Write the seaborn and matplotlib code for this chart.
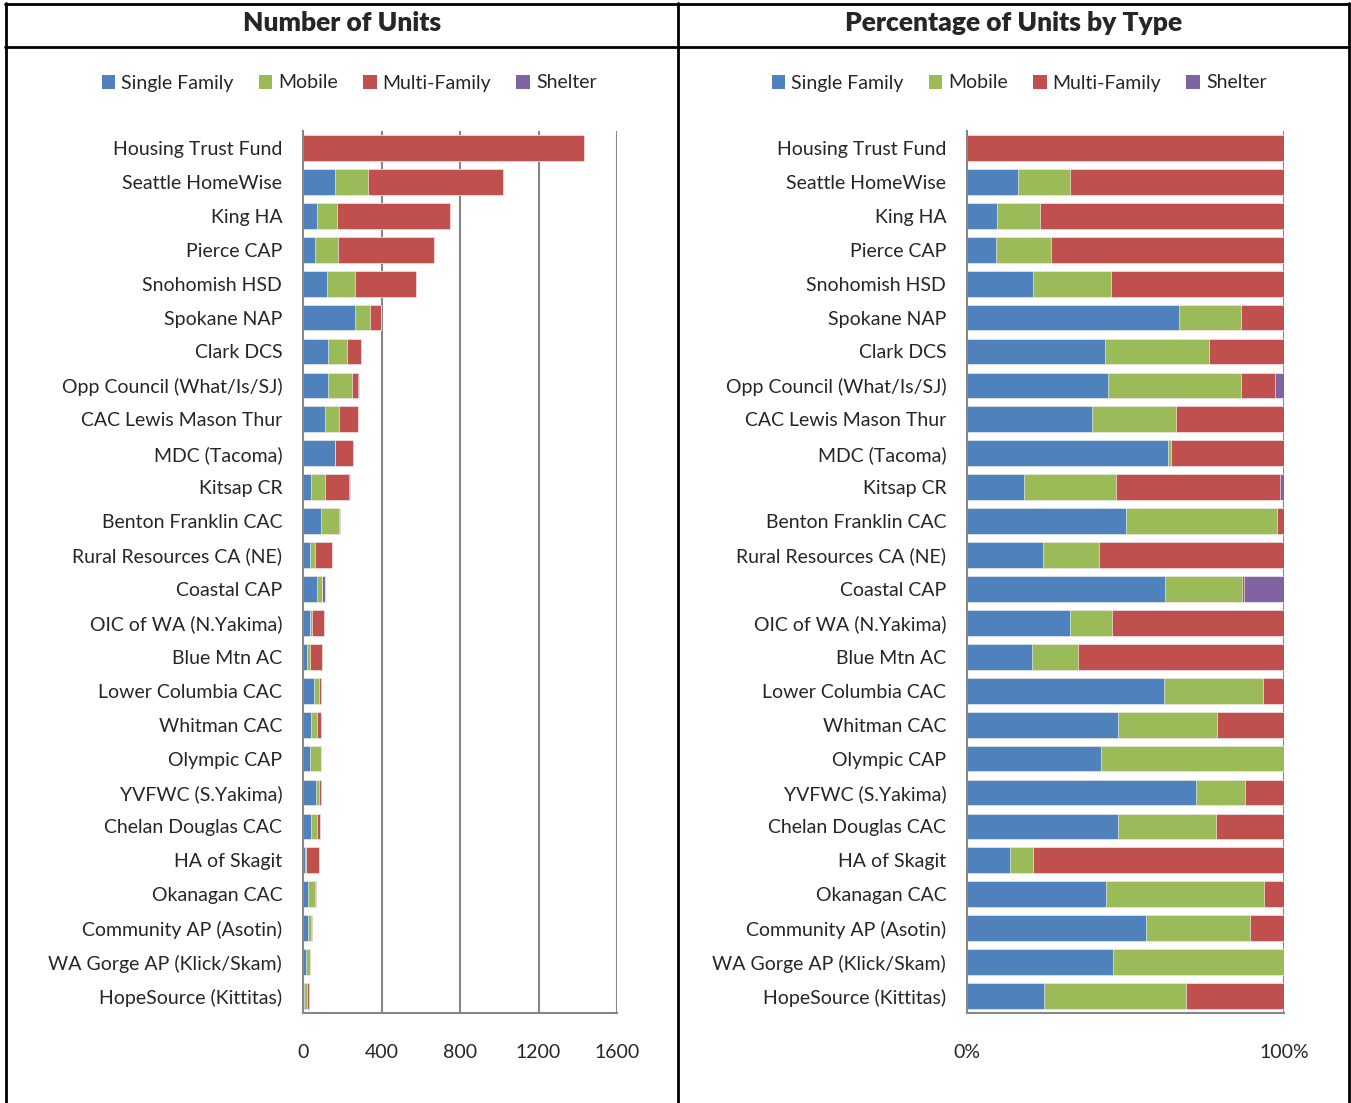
import numpy as np
import pandas as pd
import matplotlib
matplotlib.use("Agg")
import matplotlib.pyplot as plt
from matplotlib.patches import Patch
from matplotlib.lines import Line2D
from matplotlib.ticker import FixedLocator
import seaborn as sns

categories = [
    "Housing Trust Fund", "Seattle HomeWise", "King HA", "Pierce CAP",
    "Snohomish HSD", "Spokane NAP", "Clark DCS", "Opp Council (What/Is/SJ)",
    "CAC Lewis Mason Thur", "MDC (Tacoma)", "Kitsap CR", "Benton Franklin CAC",
    "Rural Resources CA (NE)", "Coastal CAP", "OIC of WA (N.Yakima)",
    "Blue Mtn AC", "Lower Columbia CAC", "Whitman CAC", "Olympic CAP",
    "YVFWC (S.Yakima)", "Chelan Douglas CAC", "HA of Skagit", "Okanagan CAC",
    "Community AP (Asotin)", "WA Gorge AP (Klick/Skam)", "HopeSource (Kittitas)",
]
single_family = [0, 163, 71, 62, 120, 265, 129, 128, 110, 162, 43, 93, 35, 70,
                 34, 20, 56, 43, 38, 65, 42, 11, 28, 26, 17, 7]
mobile = [0, 167, 102, 115, 143, 77, 97, 120, 75, 2, 69, 89, 26, 27,
          14, 14, 28, 28, 52, 14, 27, 6, 32, 15, 20, 13]
multi_family = [1432, 687, 578, 491, 315, 54, 70, 31, 95, 91, 123, 4, 85, 1,
                57, 63, 6, 19, 0, 11, 19, 65, 4, 5, 0, 9]
shelter = [0, 0, 0, 0, 0, 0, 0, 8, 0, 0, 3, 0, 0, 14,
           0, 0, 0, 0, 0, 0, 0, 0, 0, 0, 0, 0]

series_names = ["Single Family", "Mobile", "Multi-Family", "Shelter"]
colors = ["#4F81BD", "#9BBB59", "#C0504D", "#8064A2"]
left_ticks = [0, 400, 800, 1200, 1600]
left_ticklabels = ["0", "400", "800", "1200", "1600"]
right_ticks = [0, 1]
right_ticklabels = ["0%", "100%"]

sns.set_style("white")
plt.rcParams["font.family"] = ["Lato", "DejaVu Sans"]

W, H = 1351, 1103
fig = plt.figure(figsize=(W / 100, H / 100), dpi=100)

vals = np.array([single_family, mobile, multi_family, shelter], dtype=float)
cum = np.cumsum(vals, axis=0)
totals = cum[-1]
cum_pct = cum / totals

grid_col = "#868686"


def px_axes(x0, x1, y0, y1):
    return fig.add_axes([x0 / W, 1 - y1 / H, (x1 - x0) / W, (y1 - y0) / H])


def draw(ax, cumdata, xmax, ticks, ticklabels):
    for i in range(3, -1, -1):
        df = pd.DataFrame({"name": categories, "value": cumdata[i]})
        sns.barplot(data=df, x="value", y="name", order=categories,
                    color=colors[i], saturation=1, width=0.76, errorbar=None,
                    edgecolor="white", linewidth=0.4, ax=ax)
    ax.set_xlim(0, xmax)
    ax.set_ylim(len(categories) - 0.5, -0.5)
    ax.set_xlabel("")
    ax.set_ylabel("")
    for t in ticks:
        if t > 0:
            ax.axvline(t, color=grid_col, lw=1.5, zorder=0)
    ax.set_xticks(ticks)
    ax.set_xticklabels(ticklabels, fontsize=14)
    ax.tick_params(axis="x", length=6, width=1.2, color=grid_col, pad=16,
                   direction="out")
    ax.set_yticks(range(len(categories)))
    ax.set_yticklabels(categories, fontsize=14)
    ax.tick_params(axis="y", which="major", length=0, pad=15)
    ax.yaxis.set_minor_locator(FixedLocator(np.arange(-0.5, len(categories), 1)))
    ax.tick_params(axis="y", which="minor", length=6, width=1.2,
                   color=grid_col, direction="out")
    for s in ["top", "right"]:
        ax.spines[s].set_visible(False)
    for s in ["left", "bottom"]:
        ax.spines[s].set_color(grid_col)
        ax.spines[s].set_linewidth(1.5)


ax1 = px_axes(303, 617, 131, 1013)
draw(ax1, cum, 1600, left_ticks, left_ticklabels)
ax2 = px_axes(967, 1284, 131, 1013)
draw(ax2, cum_pct, 1, right_ticks, right_ticklabels)

# Frame lines
lw = 2.0
def hline(y, x0, x1):
    fig.add_artist(Line2D([x0 / W, x1 / W], [1 - y / H, 1 - y / H],
                          color="black", lw=lw, transform=fig.transFigure))
def vline(x, y0, y1):
    fig.add_artist(Line2D([x / W, x / W], [1 - y0 / H, 1 - y1 / H],
                          color="black", lw=lw, transform=fig.transFigure))

hline(4, 5, 1350)
hline(46.5, 5, 1350)
vline(6, 3, H)
vline(678, 3, H)
vline(1349, 3, H)

fig.text(342 / W, 1 - 23 / H, "Number of Units", ha="center", va="center",
         fontsize=19, fontweight="heavy")
fig.text(1014 / W, 1 - 23 / H, "Percentage of Units by Type", ha="center",
         va="center", fontsize=19, fontweight="heavy")

handles = [Patch(facecolor=c, edgecolor="none") for c in colors]
for cx in (349, 1019):
    fig.legend(handles, series_names, loc="center", ncol=4,
               bbox_to_anchor=(cx / W, 1 - 83 / H), frameon=False,
               fontsize=14, handlelength=0.7, handleheight=0.7,
               handletextpad=0.3, columnspacing=1.3)

fig.savefig("out.png", dpi=100)
